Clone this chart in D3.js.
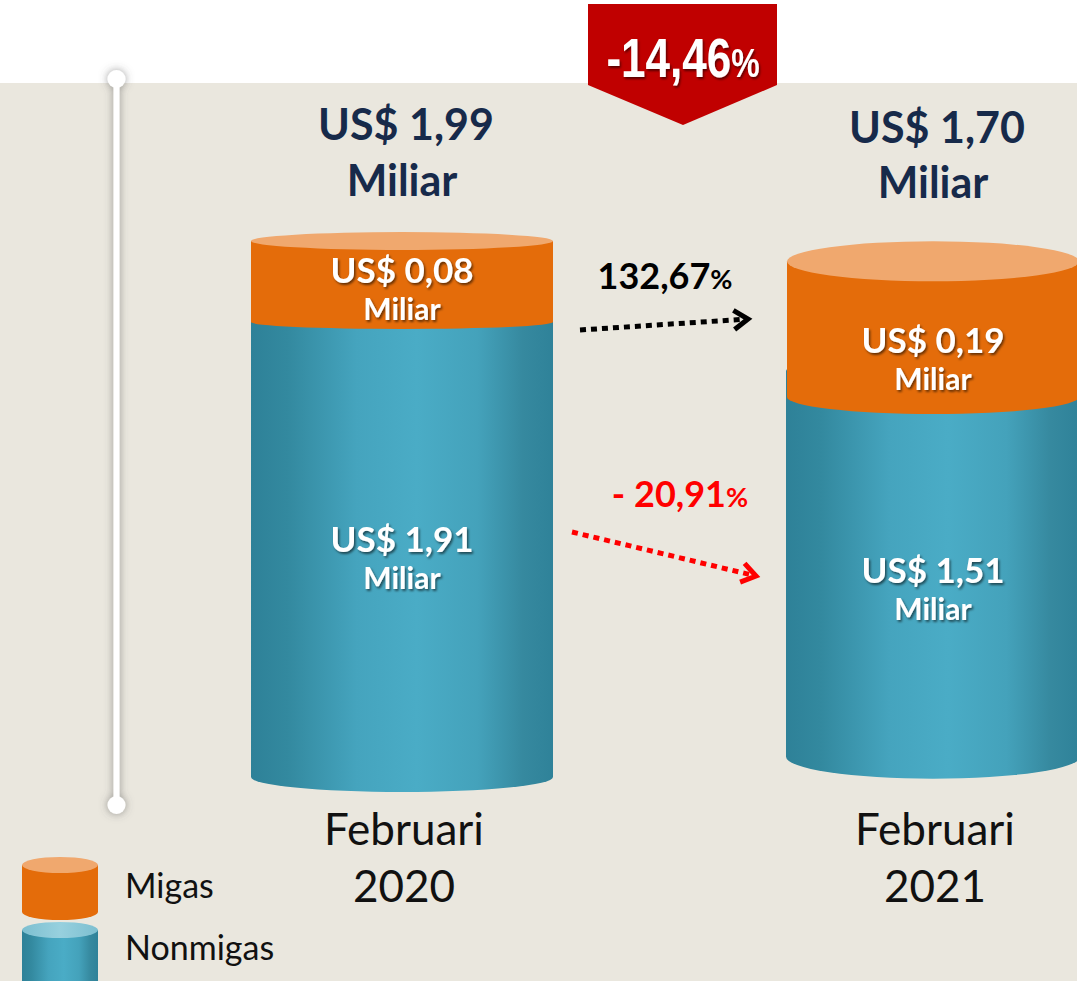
<!DOCTYPE html>
<html>
<head>
<meta charset="utf-8">
<script src="https://cdn.jsdelivr.net/npm/d3@7"></script>
<style>
  body { margin: 0; background: #fff; }
  svg { display: block; }
</style>
</head>
<body>
<div id="chart"></div>
<script>
// data (US$ miliar)
var periods = ['Februari 2020', 'Februari 2021']
var totals = [1.99, 1.70]
var migas = [0.08, 0.19]
var nonmigas = [1.91, 1.51]
var changeTotal = -14.46
var changeMigas = 132.67
var changeNonmigas = -20.91
var legendLabels = ['Migas', 'Nonmigas']

var W = 1077, H = 981
var font = 'Lato, "Open Sans", sans-serif'
var loc = d3.formatLocale({decimal: ',', thousands: '.', grouping: [3], currency: ['US$ ', ''], minus: '-'})
var fmt = loc.format('.2f')

// per-cylinder look (perspective of the ellipses), label nudges
var shapes = [
  {rx: 151, ryTop: 9, ryMid: 7, ryBot: 15, overlap: 0, dyMigas: -7, dyNon: -9},
  {rx: 146, ryTop: 20, ryMid: 17, ryBot: 22, overlap: 26, dyMigas: 5, dyNon: -13}
]

var svg = d3.select('#chart').append('svg').attr('width', W).attr('height', H)
var defs = svg.append('defs')

var tealGrad = defs.append('linearGradient').attr('id', 'teal')
;[[0, '#2e8198'], [0.12, '#33899f'], [0.35, '#45a4be'], [0.55, '#4aacc6'], [0.75, '#44a2bb'], [0.9, '#36899f'], [1, '#2f8299']]
  .forEach(function(s){ tealGrad.append('stop').attr('offset', s[0]).attr('stop-color', s[1]) })
var tealTop = defs.append('linearGradient').attr('id', 'tealTop')
;[[0, '#7dbfd0'], [0.5, '#97d0de'], [1, '#7dbfd0']]
  .forEach(function(s){ tealTop.append('stop').attr('offset', s[0]).attr('stop-color', s[1]) })

var shadow = defs.append('filter').attr('id', 'shadow').attr('x', '-10%').attr('y', '-20%').attr('width', '130%').attr('height', '150%')
shadow.append('feDropShadow').attr('dx', 1.5).attr('dy', 2).attr('stdDeviation', 1).attr('flood-color', '#000').attr('flood-opacity', 0.55)
var glow = defs.append('filter').attr('id', 'glow').attr('x', '-300%').attr('y', '-10%').attr('width', '700%').attr('height', '120%')
glow.append('feDropShadow').attr('dx', 0).attr('dy', 0).attr('stdDeviation', 4).attr('flood-color', '#555').attr('flood-opacity', 0.6)

// background
svg.append('rect').attr('width', W).attr('height', H).attr('fill', '#fff')
svg.append('rect').attr('y', 83).attr('width', W).attr('height', H - 83).attr('fill', '#eae7de')

// scales: cylinder height follows sqrt of the total, nonmigas part is linear
var x = d3.scalePoint().domain(periods).range([402, 933])
var hTotal = d3.scaleSqrt().domain([0, d3.max(totals)]).range([0, 536])
var hNon = d3.scaleLinear().domain([0, d3.max(nonmigas)]).range([0, 455])
var yMid = 509

function body(cx, rx, top, bottom, ry){
  return 'M' + (cx - rx) + ',' + top + 'L' + (cx - rx) + ',' + bottom +
    'A' + rx + ',' + ry + ' 0 0 0 ' + (cx + rx) + ',' + bottom +
    'L' + (cx + rx) + ',' + top + 'Z'
}

var cyl = periods.map(function(p, i){
  var hh = hTotal(totals[i])
  var top = yMid - hh / 2, bottom = yMid + hh / 2
  return {p: p, i: i, s: shapes[i], cx: x(p), top: top, bottom: bottom, split: bottom - hNon(nonmigas[i])}
})

cyl.forEach(function(c){
  var g = svg.append('g'), s = c.s
  // nonmigas
  g.append('path').attr('d', body(c.cx, s.rx + (s.overlap ? 1 : 0), c.split - s.overlap, c.bottom, s.ryBot)).attr('fill', 'url(#teal)')
  if (s.overlap) g.append('ellipse').attr('cx', c.cx).attr('cy', c.split - s.overlap).attr('rx', s.rx + 1).attr('ry', s.ryMid).attr('fill', 'url(#teal)')
  // migas
  g.append('path').attr('d', body(c.cx, s.rx, c.top, c.split, s.ryMid)).attr('fill', '#e46c0a')
  g.append('ellipse').attr('cx', c.cx).attr('cy', c.top).attr('rx', s.rx).attr('ry', s.ryTop).attr('fill', '#f0a86e')

  // values inside, centred on the visible face
  var segs = [
    {v: migas[c.i], y: (c.top + s.ryTop + c.split + s.ryMid) / 2 + s.dyMigas},
    {v: nonmigas[c.i], y: (c.split + s.ryMid + c.bottom + s.ryBot) / 2 + s.dyNon}
  ]
  segs.forEach(function(d){
    var t = g.append('text').attr('text-anchor', 'middle').attr('fill', '#fff')
      .attr('font-family', font).attr('font-weight', 700).attr('filter', 'url(#shadow)')
    t.append('tspan').attr('x', c.cx).attr('y', d.y).attr('font-size', 35).text('US$ ' + fmt(d.v))
    t.append('tspan').attr('x', c.cx).attr('y', d.y + 37).attr('font-size', 30).text('Miliar')
  })

  // total above
  var th = g.append('text').attr('text-anchor', 'middle').attr('fill', '#172a4a')
    .attr('font-family', font).attr('font-weight', 700).attr('font-size', 43)
  th.append('tspan').attr('x', c.cx + 4).attr('y', 140 + c.i * 3).text('US$ ' + fmt(totals[c.i]))
  th.append('tspan').attr('x', c.cx).attr('y', 196 + c.i * 2).text('Miliar')

  // period below
  var words = c.p.split(' ')
  var tp = g.append('text').attr('text-anchor', 'middle').attr('fill', '#111')
    .attr('font-family', font).attr('font-size', 44)
  tp.append('tspan').attr('x', c.cx + 2).attr('y', 845).text(words[0])
  tp.append('tspan').attr('x', c.cx + 2).attr('y', 902).text(words[1])
})

// vertical line at left
var vl = svg.append('g').attr('filter', 'url(#glow)')
vl.append('line').attr('x1', 116.5).attr('x2', 116.5).attr('y1', 79).attr('y2', 805).attr('stroke', '#fff').attr('stroke-width', 6)
vl.selectAll('circle').data([79, 805]).join('circle').attr('cx', 116.5).attr('cy', function(d){ return d }).attr('r', 9).attr('fill', '#fff')

// total change banner
var bx = 683
svg.append('path')
  .attr('d', 'M' + (bx - 95) + ',4H' + (bx + 94) + 'V85L' + bx + ',125L' + (bx - 95) + ',85Z')
  .attr('fill', '#c00000')
var bt = svg.append('g').attr('transform', 'translate(' + bx + ',77) scale(0.8,1)')
  .append('text').attr('text-anchor', 'middle').attr('fill', '#fff')
  .attr('font-family', '"Liberation Sans Narrow", "Liberation Sans", Arial, sans-serif').attr('font-weight', 700)
  .attr('filter', 'url(#shadow)')
bt.append('tspan').attr('font-size', 55).text(fmt(changeTotal))
bt.append('tspan').attr('font-size', 40).text('%')

// change arrows
function arrow(x1, y1, x2, y2, color){
  var g = svg.append('g').attr('stroke', color).attr('fill', 'none')
  var a = Math.atan2(y2 - y1, x2 - x1), len = 17, spread = 0.6
  g.append('line').attr('x1', x1).attr('y1', y1).attr('x2', x2 - 6 * Math.cos(a)).attr('y2', y2 - 6 * Math.sin(a))
    .attr('stroke-width', 5).attr('stroke-dasharray', '6,5')
  g.append('polyline').attr('stroke-width', 5).attr('stroke-linejoin', 'miter')
    .attr('points', [
      [x2 - len * Math.cos(a - spread), y2 - len * Math.sin(a - spread)],
      [x2, y2],
      [x2 - len * Math.cos(a + spread), y2 - len * Math.sin(a + spread)]
    ].join(' '))
}
arrow(580, 330, 748, 319, '#000')
arrow(572, 532, 756, 576, '#ff0000')

function pctLabel(v, xx, yy, color, prefix){
  var t = svg.append('text').attr('x', xx).attr('y', yy).attr('text-anchor', 'middle').attr('fill', color)
    .attr('font-family', font).attr('font-weight', 700)
  t.append('tspan').attr('font-size', 36).text(prefix + fmt(Math.abs(v)))
  t.append('tspan').attr('font-size', 27).text('%')
}
pctLabel(changeMigas, 665, 289, '#000', '')
pctLabel(changeNonmigas, 680, 507, '#ff0000', '- ')

// legend
var lg = svg.append('g')
var lcx = 60, lrx = 38
lg.append('path').attr('d', body(lcx, lrx, 930, 990, 8)).attr('fill', 'url(#teal)')
lg.append('ellipse').attr('cx', lcx).attr('cy', 930).attr('rx', lrx).attr('ry', 8).attr('fill', 'url(#tealTop)')
lg.append('path').attr('d', body(lcx, lrx, 865, 912, 8)).attr('fill', '#e46c0a')
lg.append('ellipse').attr('cx', lcx).attr('cy', 865).attr('rx', lrx).attr('ry', 8).attr('fill', '#f0a86e')
lg.selectAll('text.leg').data(legendLabels).join('text')
  .attr('x', 125).attr('y', function(d, i){ return 898 + i * 62 })
  .attr('font-family', font).attr('font-size', 34).attr('fill', '#111')
  .text(function(d){ return d })
</script>
</body>
</html>
